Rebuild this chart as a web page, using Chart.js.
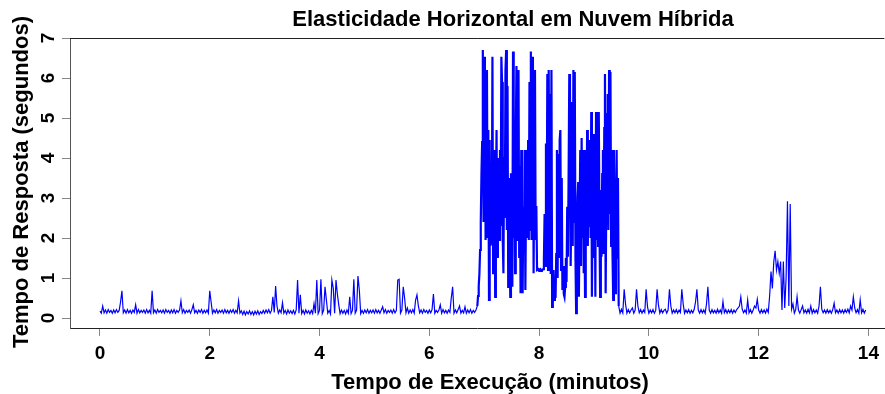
<!DOCTYPE html>
<html>
<head>
<meta charset="utf-8">
<script src="https://cdn.jsdelivr.net/npm/chart.js@4/dist/chart.umd.min.js"></script>
<style>
  html, body { margin: 0; padding: 0; background: #fff; }
</style>
</head>
<body>
<canvas id="elasticChart" width="885" height="394"></canvas>
<script>
// sampling grids (minutes)
var beforeStart = 0, beforeStep = 0.025;
var burstStart = 6.875, burstStep = 0.0125;
var afterStart = 9.475, afterStep = 0.025;
var xTicks = [0, 2, 4, 6, 8, 10, 12, 14];
var yTicks = [0, 1, 2, 3, 4, 5, 6, 7];

// 0 .. 6.85 min : private cloud only
var respBefore = [
  0.17,0.12,0.30,0.13,0.20,0.12,0.21,0.14,0.19,0.12,0.20,0.13,0.21,0.14,0.19,0.40,0.68,0.13,0.20,0.12,
  0.21,0.13,0.19,0.12,0.20,0.14,0.33,0.12,0.21,0.13,0.19,0.14,0.20,0.12,0.21,0.13,0.19,0.12,0.68,0.13,
  0.20,0.12,0.21,0.14,0.19,0.13,0.20,0.12,0.21,0.14,0.19,0.12,0.20,0.13,0.21,0.12,0.19,0.14,0.20,0.43,
  0.13,0.21,0.12,0.19,0.14,0.20,0.12,0.21,0.33,0.13,0.19,0.12,0.20,0.14,0.21,0.12,0.19,0.13,0.20,0.12,
  0.68,0.40,0.12,0.20,0.13,0.21,0.12,0.19,0.14,0.20,0.12,0.21,0.13,0.19,0.12,0.20,0.14,0.21,0.12,0.19,
  0.13,0.43,0.12,0.18,0.09,0.17,0.08,0.16,0.10,0.18,0.09,0.16,0.08,0.17,0.10,0.18,0.09,0.16,0.11,0.19,
  0.12,0.20,0.13,0.21,0.12,0.19,0.53,0.14,0.80,0.30,0.12,0.20,0.13,0.38,0.12,0.19,0.10,0.20,0.12,0.18,
  0.11,0.19,0.10,0.20,0.95,0.12,0.58,0.11,0.19,0.10,0.20,0.12,0.18,0.10,0.19,0.11,0.36,0.12,0.95,0.11,
  0.19,0.97,0.11,0.20,0.78,0.45,0.12,0.19,0.10,0.95,0.75,0.12,0.95,0.60,0.33,0.11,0.20,0.12,0.19,0.10,
  0.20,0.12,0.53,0.11,0.19,0.97,0.12,0.20,1.05,0.70,0.11,0.19,0.12,0.20,0.13,0.21,0.12,0.19,0.13,0.20,
  0.12,0.21,0.13,0.19,0.12,0.20,0.28,0.13,0.21,0.12,0.19,0.14,0.20,0.12,0.21,0.13,0.19,0.95,0.97,0.12,
  0.20,0.78,0.50,0.13,0.25,0.12,0.20,0.13,0.21,0.12,0.45,0.58,0.31,0.13,0.20,0.12,0.21,0.14,0.19,0.12,
  0.20,0.13,0.21,0.60,0.12,0.19,0.14,0.20,0.33,0.12,0.21,0.13,0.19,0.12,0.20,0.14,0.50,0.78,0.12,0.20,
  0.13,0.21,0.30,0.12,0.19,0.13,0.28,0.12,0.20,0.13,0.21,0.12,0.19,0.14,0.20
];

// 6.875 .. 9.45 min : load burst (denser log)
var respBurst = [
  0.30,0.55,0.80,1.10,1.70,2.40,3.60,4.40,6.70,2.40,
  5.80,6.53,1.95,5.00,6.20,2.00,4.70,0.45,4.45,1.80,
  3.50,1.83,6.53,1.12,2.20,4.20,0.53,3.00,4.70,1.53,
  4.00,2.20,1.95,4.20,2.30,6.53,5.90,2.00,1.12,4.03,
  2.50,6.20,6.70,2.20,5.80,0.78,3.50,1.80,0.53,3.62,
  1.50,0.78,6.66,2.00,4.36,1.12,4.50,6.30,1.95,4.00,
  6.20,1.53,3.80,0.62,4.20,1.80,0.62,2.78,1.90,4.20,
  0.70,3.00,4.20,2.00,4.45,1.95,5.90,2.20,6.66,1.95,
  4.00,6.53,1.12,4.20,6.20,1.95,2.80,1.20,1.20,1.22,
  1.18,1.20,1.22,1.20,1.19,1.20,1.22,1.45,2.60,1.30,
  4.36,2.00,6.10,1.20,6.20,2.20,5.60,1.10,6.20,0.28,
  0.37,1.20,0.45,0.78,0.50,1.60,4.20,1.00,4.10,1.50,
  4.45,4.70,1.20,3.50,0.70,1.30,0.60,0.53,0.78,1.50,
  0.90,2.78,1.53,3.50,6.10,5.80,1.30,3.00,5.40,1.80,
  6.20,2.40,6.15,1.53,0.12,1.30,3.00,3.40,0.53,2.50,
  4.20,1.30,4.50,2.00,4.20,1.12,2.50,0.53,4.20,2.00,
  4.70,1.80,4.10,2.30,4.45,2.00,5.15,0.53,3.00,4.60,
  1.50,4.00,0.53,5.15,1.95,4.20,1.80,5.15,2.20,0.53,
  3.20,1.53,3.60,4.20,1.60,4.75,6.10,0.62,3.00,5.10,
  5.60,2.20,6.20,2.60,6.15,1.80,4.20,1.60,0.45,4.20,
  1.30,0.62,2.80,4.20,1.50,3.50,0.30
];

// 9.475 .. 13.95 min : after scaling out
var respAfter = [
  0.12,0.22,0.13,0.72,0.35,0.12,0.21,0.13,0.20,0.25,0.12,0.20,0.72,0.30,0.13,0.21,0.12,0.20,0.14,0.72,
  0.28,0.12,0.20,0.13,0.21,0.12,0.19,0.72,0.32,0.12,0.21,0.13,0.19,0.22,0.12,0.20,0.72,0.30,0.12,0.20,
  0.13,0.21,0.12,0.20,0.14,0.72,0.35,0.12,0.20,0.13,0.21,0.12,0.19,0.13,0.21,0.40,0.72,0.20,0.12,0.21,
  0.13,0.20,0.12,0.35,0.78,0.20,0.12,0.21,0.13,0.19,0.12,0.22,0.13,0.20,0.12,0.41,0.13,0.21,0.12,0.20,
  0.13,0.21,0.12,0.20,0.14,0.21,0.25,0.30,0.53,0.22,0.13,0.20,0.12,0.45,0.13,0.21,0.12,0.20,0.30,0.25,
  0.47,0.20,0.12,0.21,0.13,0.20,0.12,0.22,0.14,0.55,1.16,0.74,1.40,1.68,1.20,1.41,1.12,1.41,0.20,1.41,
  0.25,1.00,2.92,0.30,2.85,0.22,0.35,0.12,0.21,0.53,0.20,0.12,0.21,0.30,0.13,0.20,0.12,0.22,0.13,0.30,
  0.12,0.21,0.13,0.20,0.12,0.30,0.78,0.22,0.13,0.20,0.12,0.21,0.13,0.19,0.12,0.21,0.37,0.13,0.20,0.12,
  0.21,0.13,0.20,0.12,0.21,0.14,0.22,0.13,0.30,0.20,0.53,0.25,0.13,0.21,0.12,0.45,0.13,0.22,0.12,0.20
];

var chartTitle = 'Elasticidade Horizontal em Nuvem Híbrida';
var xTitle = 'Tempo de Execução (minutos)';
var yTitle = 'Tempo de Resposta (segundos)';

var fontFamily = '"Liberation Sans", Arial, Helvetica, sans-serif';

function toPoints(values, start, step) {
  return values.map(function (v, i) {
    return { x: start + i * step, y: v };
  });
}

var points = toPoints(respBefore, beforeStart, beforeStep)
  .concat(toPoints(respBurst, burstStart, burstStep))
  .concat(toPoints(respAfter, afterStart, afterStep));

// top frame line + titles (R style)
var framePlugin = {
  id: 'framePlugin',
  afterDraw: function (chart) {
    var ctx = chart.ctx;
    var area = chart.chartArea;
    ctx.save();
    ctx.strokeStyle = '#222';
    ctx.lineWidth = 1;
    ctx.beginPath();
    ctx.moveTo(area.left, area.top + 0.5);
    ctx.lineTo(area.right, area.top + 0.5);
    ctx.stroke();

    ctx.fillStyle = '#000';
    ctx.font = 'bold 22px ' + fontFamily;
    ctx.textAlign = 'center';
    ctx.textBaseline = 'middle';
    ctx.fillText(chartTitle, 513, 20);
    ctx.fillText(xTitle, 490, 383);

    ctx.translate(22, 182);
    ctx.rotate(-Math.PI / 2);
    ctx.fillText(yTitle, 0, 0);
    ctx.restore();
  }
};

var ctx = document.getElementById('elasticChart');
new Chart(ctx, {
  type: 'line',
  data: {
    datasets: [{
      data: points,
      borderColor: '#0000ff',
      borderWidth: 1.2,
      pointRadius: 0,
      tension: 0,
      fill: false,
      segment: {
        // the dense burst log overlaps a lot in the original
        borderWidth: function (c) {
          var x = c.p0.parsed.x;
          return (x >= burstStart && x < afterStart - 0.03) ? 2.2 : 1.2;
        },
      },
    }],
  },
  options: {
    responsive: false,
    animation: false,
    parsing: false,
    layout: {
      padding: { top: 38, right: 0, bottom: 0, left: 0 },
    },
    plugins: {
      legend: { display: false },
      tooltip: { enabled: false },
    },
    scales: {
      x: {
        type: 'linear',
        min: -0.546,
        max: 14.291,
        afterBuildTicks: function (scale) {
          scale.ticks = xTicks.map(function (v) { return { value: v }; });
        },
        afterFit: function (scale) { scale.height = 66; },
        border: { display: true, color: '#222', width: 1 },
        grid: { drawOnChartArea: false, drawTicks: true, tickLength: 8, color: '#888', tickColor: '#888' },
        ticks: {
          autoSkip: false,
          maxRotation: 0,
          padding: 6,
          color: '#000',
          font: { family: fontFamily, size: 19, weight: 'bold' },
        },
      },
      y: {
        type: 'linear',
        min: -0.25,
        max: 7,
        afterBuildTicks: function (scale) {
          scale.ticks = yTicks.map(function (v) { return { value: v }; });
        },
        afterFit: function (scale) { scale.width = 70; },
        border: { display: true, color: '#555', width: 1 },
        grid: { drawOnChartArea: false, drawTicks: true, tickLength: 8, color: '#888', tickColor: '#888' },
        ticks: {
          minRotation: 90,
          maxRotation: 90,
          crossAlign: 'center',
          padding: 8,
          color: '#000',
          font: { family: fontFamily, size: 19, weight: 'bold' },
        },
      },
    },
  },
  plugins: [framePlugin],
});
</script>
</body>
</html>
